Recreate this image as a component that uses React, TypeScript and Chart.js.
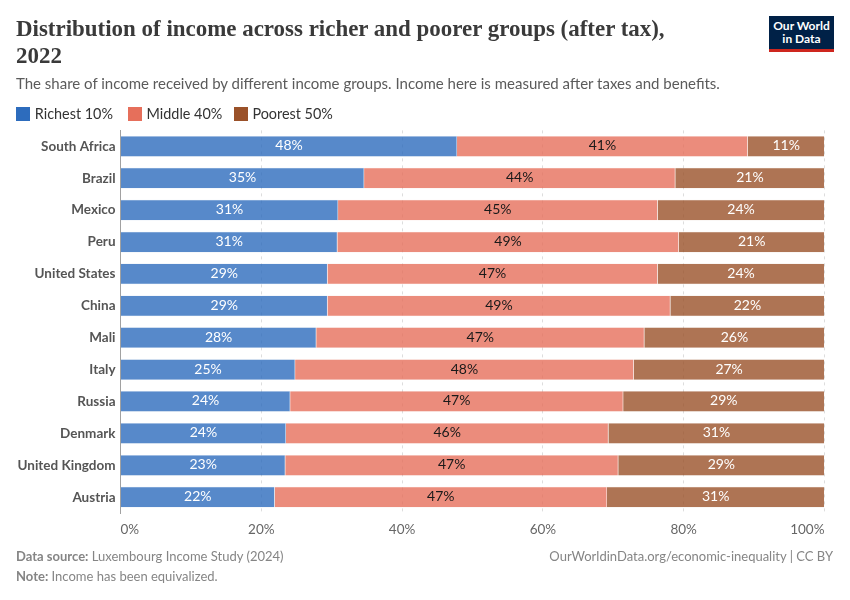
import { useEffect, useRef } from 'react';
import { Chart, registerables } from 'chart.js';

Chart.register(...registerables);

const countries = ['South Africa', 'Brazil', 'Mexico', 'Peru', 'United States', 'China', 'Mali', 'Italy', 'Russia', 'Denmark', 'United Kingdom', 'Austria'];
const richest = [47.8, 34.6, 30.9, 30.8, 29.4, 29.4, 27.8, 24.8, 24.1, 23.5, 23.4, 21.9];
const middle = [41.3, 44.2, 45.4, 48.5, 46.9, 48.7, 46.6, 48.1, 47.3, 45.8, 47.3, 47.2];
const poorest = [10.9, 21.2, 23.7, 20.7, 23.7, 21.9, 25.6, 27.1, 28.6, 30.7, 29.3, 30.9];
const xTicks = [0, 20, 40, 60, 80, 100];

const LATO = 'Lato, sans-serif';

const legendItems = [
  { label: 'Richest 10%', color: '#2d6cbd' },
  { label: 'Middle 40%', color: '#e66f5b' },
  { label: 'Poorest 50%', color: '#9a5129' },
];

// Percent labels centred in each bar segment
const barLabels = {
  id: 'barLabels',
  afterDatasetsDraw(chart: any) {
    const { ctx } = chart;
    ctx.save();
    ctx.font = `14px ${LATO}`;
    ctx.textAlign = 'center';
    ctx.textBaseline = 'middle';
    chart.data.datasets.forEach((ds: any, i: number) => {
      ctx.fillStyle = i === 1 ? '#1a1a1a' : '#ffffff';
      chart.getDatasetMeta(i).data.forEach((bar: any, j: number) => {
        const p = bar.getProps(['x', 'y', 'base'], true);
        ctx.fillText(`${Math.round(ds.data[j])}%`, (p.x + p.base) / 2, p.y - 0.5);
      });
    });
    ctx.restore();
  },
};

export default function App() {
  const canvasRef = useRef<HTMLCanvasElement>(null);

  useEffect(() => {
    if (!canvasRef.current) return;
    const dataset = (label: string, data: number[], color: string) => ({
      label,
      data,
      backgroundColor: color + 'cc',
      borderColor: color + '33',
      borderWidth: 0.5,
      barPercentage: 0.65,
      categoryPercentage: 1,
    });

    const chart = new Chart(canvasRef.current, {
      type: 'bar',
      data: {
        labels: countries,
        datasets: [
          dataset('Richest 10%', richest, legendItems[0].color),
          dataset('Middle 40%', middle, legendItems[1].color),
          dataset('Poorest 50%', poorest, legendItems[2].color),
        ],
      },
      options: {
        indexAxis: 'y',
        responsive: false,
        animation: false,
        layout: { padding: { top: 130.4, right: 25.5, bottom: 62.9, left: 0 } },
        plugins: { legend: { display: false }, tooltip: { enabled: false } },
        scales: {
          x: {
            stacked: true,
            min: 0,
            max: 100,
            afterFit: (scale: any) => { scale.height = 24; },
            afterBuildTicks: (scale: any) => { scale.ticks = xTicks.map((value) => ({ value })); },
            border: { display: false, dash: [3, 4] },
            grid: { color: '#dddddd', drawTicks: false, tickLength: 0, lineWidth: 1 },
            ticks: {
              align: 'inner',
              maxRotation: 0,
              autoSkip: false,
              padding: 8.5,
              color: '#666666',
              font: { family: LATO, size: 13.5 },
              callback: (v: any) => `${v}%`,
            },
          },
          y: {
            stacked: true,
            afterFit: (scale: any) => { scale.width = 120.5; },
            border: { display: true, color: '#a1a1a1', width: 1 },
            grid: { display: false, drawTicks: false },
            ticks: {
              autoSkip: false,
              padding: 5,
              color: '#555555',
              font: { family: LATO, size: 13.5, weight: 'bold' },
            },
          },
        },
      } as any,
      plugins: [barLabels],
    });

    return () => chart.destroy();
  }, []);

  const abs = (left: number, top: number, extra: any = {}) => ({
    position: 'absolute' as const,
    left,
    top,
    whiteSpace: 'nowrap' as const,
    fontFamily: LATO,
    ...extra,
  });

  return (
    <div style={{ position: 'absolute', left: 0, top: 0, width: 850, height: 600, background: '#fff', overflow: 'hidden' }}>
      <canvas ref={canvasRef} width={850} height={600} style={{ position: 'absolute', left: 0, top: 0 }} />

      <div style={abs(16, 15, { fontFamily: '"Liberation Serif", serif', fontWeight: 700, fontSize: 22.95, lineHeight: '27px', color: '#3a3a3a' })}>
        Distribution of income across richer and poorer groups (after tax),
        <br />
        2022
      </div>
      <div style={abs(16, 73, { fontSize: 15, lineHeight: '20px', color: '#5b5b5b' })}>
        The share of income received by different income groups. Income here is measured after taxes and benefits.
      </div>

      <div style={abs(16, 105, { display: 'flex', fontSize: 14.4, lineHeight: '18px', color: '#333' })}>
        {legendItems.map((item, i) => (
          <div key={item.label} style={{ display: 'flex', alignItems: 'center', marginRight: i === 0 ? 14.8 : 11.3 }}>
            <span style={{ width: 14, height: 14, background: item.color, marginRight: 4.8 }} />
            {item.label}
          </div>
        ))}
      </div>

      <div style={abs(769, 16, { width: 65, height: 36, background: '#002147', color: '#fff', textAlign: 'center', fontWeight: 700, fontSize: 12, lineHeight: '12.5px' })}>
        <div style={{ paddingTop: 4 }}>Our World<br />in Data</div>
        <div style={{ position: 'absolute', left: 0, top: 33, width: 65, height: 3, background: '#ce261e' }} />
      </div>

      <div style={abs(16, 547, { fontSize: 13, lineHeight: '18px', color: '#858585' })}>
        <b>Data source:</b> Luxembourg Income Study (2024)
      </div>
      <div style={abs(16, 567, { fontSize: 13, lineHeight: '18px', color: '#858585' })}>
        <b>Note:</b> Income has been equivalized.
      </div>
      <div style={abs(0, 547, { left: 'auto', right: 17, fontSize: 13, lineHeight: '18px', color: '#858585' })}>
        OurWorldinData.org/economic-inequality | CC BY
      </div>
    </div>
  );
}
